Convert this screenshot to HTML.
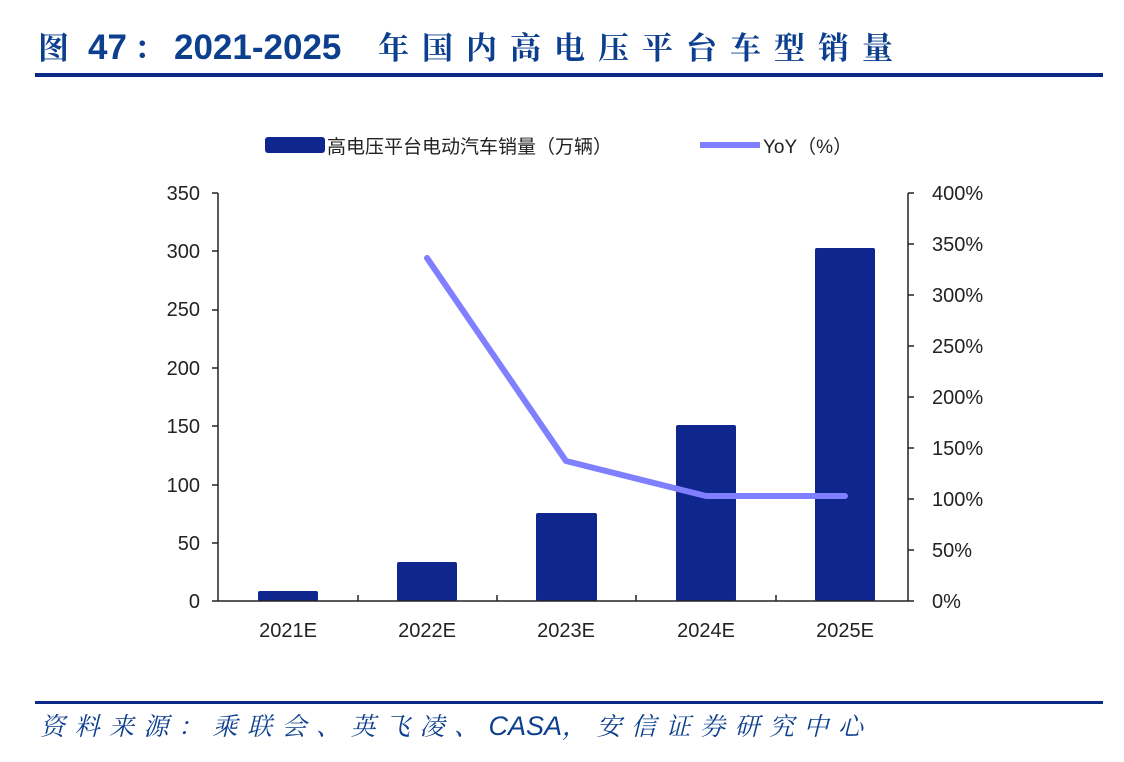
<!DOCTYPE html>
<html><head><meta charset="utf-8"><style>
body{margin:0;background:#fff;}
svg{display:block;}
</style></head><body>
<svg width="1124" height="762" xmlns="http://www.w3.org/2000/svg" font-family="'Liberation Sans','Noto Sans CJK SC',sans-serif">
<text y="59" font-weight="bold" fill="#0d3f8f" font-family="'Liberation Sans','Noto Serif CJK SC',serif"><tspan x="38" font-size="31">图</tspan><tspan x="88" font-size="35">47</tspan><tspan x="134" font-size="31">：</tspan><tspan x="174" font-size="35">2021-2025</tspan><tspan x="378" font-size="31" letter-spacing="13">年国内高电压平台车型销量</tspan></text>
<rect x="35" y="73" width="1068" height="4" fill="#0a2a86"/>
<rect x="265" y="137" width="60" height="16" rx="3" fill="#10268f"/>
<text x="327" y="153" font-size="19" fill="#222">高电压平台电动汽车销量（万辆）</text>
<line x1="700" y1="145" x2="760" y2="145" stroke="#7f7fff" stroke-width="6"/>
<text x="763" y="153" font-size="19" fill="#222">YoY（%）</text>
<g font-size="20" fill="#222" text-anchor="end">
<text x="200" y="200">350</text><text x="200" y="258">300</text><text x="200" y="316">250</text><text x="200" y="375">200</text><text x="200" y="433">150</text><text x="200" y="492">100</text><text x="200" y="550">50</text><text x="200" y="608">0</text>
</g>
<g font-size="20" fill="#222">
<text x="932" y="200">400%</text><text x="932" y="251">350%</text><text x="932" y="302">300%</text><text x="932" y="353">250%</text><text x="932" y="404">200%</text><text x="932" y="455">150%</text><text x="932" y="506">100%</text><text x="932" y="557">50%</text><text x="932" y="608">0%</text>
</g>
<g stroke="#222" stroke-width="1.5" fill="none">
<line x1="218" y1="193" x2="218" y2="601"/>
<line x1="212" y1="193" x2="218" y2="193"/><line x1="212" y1="251" x2="218" y2="251"/><line x1="212" y1="310" x2="218" y2="310"/><line x1="212" y1="368" x2="218" y2="368"/><line x1="212" y1="426" x2="218" y2="426"/><line x1="212" y1="485" x2="218" y2="485"/><line x1="212" y1="543" x2="218" y2="543"/><line x1="212" y1="601" x2="218" y2="601"/>
<line x1="908" y1="193" x2="908" y2="601"/>
<line x1="908" y1="193" x2="914" y2="193"/><line x1="908" y1="244" x2="914" y2="244"/><line x1="908" y1="295" x2="914" y2="295"/><line x1="908" y1="346" x2="914" y2="346"/><line x1="908" y1="397" x2="914" y2="397"/><line x1="908" y1="448" x2="914" y2="448"/><line x1="908" y1="499" x2="914" y2="499"/><line x1="908" y1="550" x2="914" y2="550"/><line x1="908" y1="601" x2="914" y2="601"/>
</g>
<g fill="#10268f">
<rect x="258" y="591" width="60" height="10" rx="2"/>
<rect x="397" y="562" width="60" height="39" rx="2"/>
<rect x="536" y="513" width="61" height="88" rx="2"/>
<rect x="676" y="425" width="60" height="176" rx="2"/>
<rect x="815" y="248" width="60" height="353" rx="2"/>
</g>
<g stroke="#222" stroke-width="1.5">
<line x1="218" y1="601" x2="908" y2="601"/>
<line x1="358" y1="595" x2="358" y2="601"/><line x1="497" y1="595" x2="497" y2="601"/><line x1="636" y1="595" x2="636" y2="601"/><line x1="776" y1="595" x2="776" y2="601"/>
</g>
<polyline points="427,258 566,461 706,496 845,496" fill="none" stroke="#7f7fff" stroke-width="6" stroke-linejoin="round" stroke-linecap="round"/>
<g font-size="20" fill="#222" text-anchor="middle">
<text x="288" y="637">2021E</text><text x="427" y="637">2022E</text><text x="566" y="637">2023E</text><text x="706" y="637">2024E</text><text x="845" y="637">2025E</text>
</g>
<rect x="35" y="701" width="1068" height="3" fill="#0a2a86"/>
<text x="40" y="735" font-size="25" font-style="italic" fill="#0d3f8f" letter-spacing="9.5" font-family="'Liberation Sans','Noto Serif CJK SC',serif">资料来源：乘联会、英飞凌、<tspan letter-spacing="0" font-size="27">CASA</tspan>，安信证券研究中心</text>
</svg>
</body></html>
